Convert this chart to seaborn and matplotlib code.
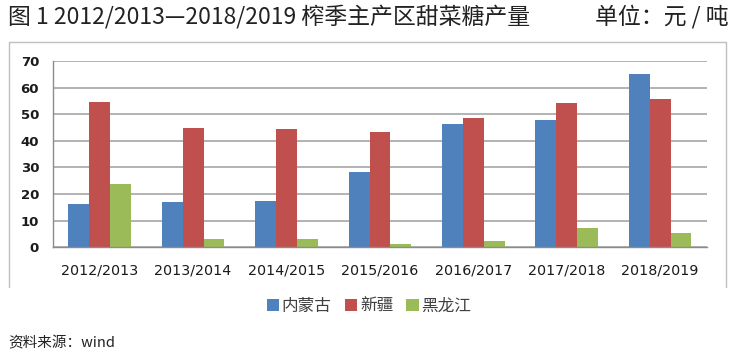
import pandas as pd
import numpy as np
import matplotlib.pyplot as plt
import seaborn as sns
from matplotlib.lines import Line2D

# sugar beet output by season
seasons = ['2012/2013', '2013/2014', '2014/2015', '2015/2016',
           '2016/2017', '2017/2018', '2018/2019']
neimenggu = [16.4, 17.1, 17.5, 28.4, 46.3, 48.0, 65.0]
xinjiang = [54.5, 44.8, 44.3, 43.3, 48.7, 54.2, 55.7]
heilongjiang = [23.8, 3.1, 3.1, 1.2, 2.4, 7.1, 5.5]
regions = ['内蒙古', '新疆', '黑龙江']
colors = ['#4F81BD', '#C0504D', '#9BBB59']

df = pd.DataFrame({'season': seasons * 3,
                   'region': np.repeat(regions, len(seasons)),
                   'value': neimenggu + xinjiang + heilongjiang})

sns.set_style('white')
plt.rcParams['font.family'] = ['Noto Sans CJK SC', 'DejaVu Sans']

fig = plt.figure(figsize=(7.31, 3.56), dpi=100)
ax = fig.add_axes([0.0725, 0.3053, 0.8945, 0.5234])

sns.barplot(data=df, x='season', y='value', hue='region', palette=colors,
            width=0.67, gap=0, saturation=1, linewidth=0, ax=ax, legend=True)

ax.set_ylim(0, 70)
ax.set_yticks(range(0, 71, 10))
ax.set_xlim(-0.5, 6.5)
ax.set_xlabel('')
ax.set_ylabel('')
ax.yaxis.grid(True, color='#A6A6A6', linewidth=1.2)
ax.set_axisbelow(True)
for s in ['top', 'right']:
    ax.spines[s].set_visible(False)
for s in ['left', 'bottom']:
    ax.spines[s].set_color('#8C8C8C')
    ax.spines[s].set_linewidth(1.0)

ax.set_xticks(np.arange(-0.5, 7, 1), minor=True)
ax.tick_params(axis='x', which='major', length=0, pad=12)
ax.tick_params(axis='x', which='minor', length=5, color='#8C8C8C', direction='out')
ax.tick_params(axis='y', length=6, color='#8C8C8C', direction='out', pad=4)
for lab in ax.get_xticklabels():
    lab.set_fontfamily('DejaVu Sans')
    lab.set_fontsize(10.3)
    lab.set_color('#1a1a1a')
for lab in ax.get_yticklabels():
    lab.set_fontfamily('DejaVu Sans')
    lab.set_fontsize(9.5)
    lab.set_fontweight('bold')
    lab.set_color('#1a1a1a')

ax.legend(loc='center', frameon=False,
          ncol=3, handlelength=0.75, handleheight=0.75, handletextpad=0.15,
          columnspacing=0.8, prop={'family': ['Noto Sans CJK SC'], 'size': 12},
          labelcolor='#404040')
leg = ax.get_legend()
leg.set_bbox_to_anchor((369 / 731, 1 - 306 / 356), transform=fig.transFigure)

# outer frame (top, left, right)
fc = '#BFBFBF'
x0, x1 = 9 / 731, 726 / 731
y0, y1 = 1 - 287 / 356, 1 - 42 / 356
fig.add_artist(Line2D([x0, x1], [y1, y1], color=fc, lw=1))
fig.add_artist(Line2D([x0, x0], [y0, y1], color=fc, lw=1))
fig.add_artist(Line2D([x1, x1], [y0, y1], color=fc, lw=1))

fig.text(8 / 731, 1 - 17 / 356, '图 1 2012/2013—2018/2019 榨季主产区甜菜糖产量',
         fontsize=16.5, va='center', ha='left', color='#222222')
fig.text(729 / 731, 1 - 17 / 356, '单位：元 / 吨',
         fontsize=16.5, va='center', ha='right', color='#222222')
fig.text(8 / 731, 1 - 343 / 356, '资料来源：wind',
         fontsize=10.5, va='center', ha='left', color='#222222')

fig.savefig('out.png', dpi=100)
